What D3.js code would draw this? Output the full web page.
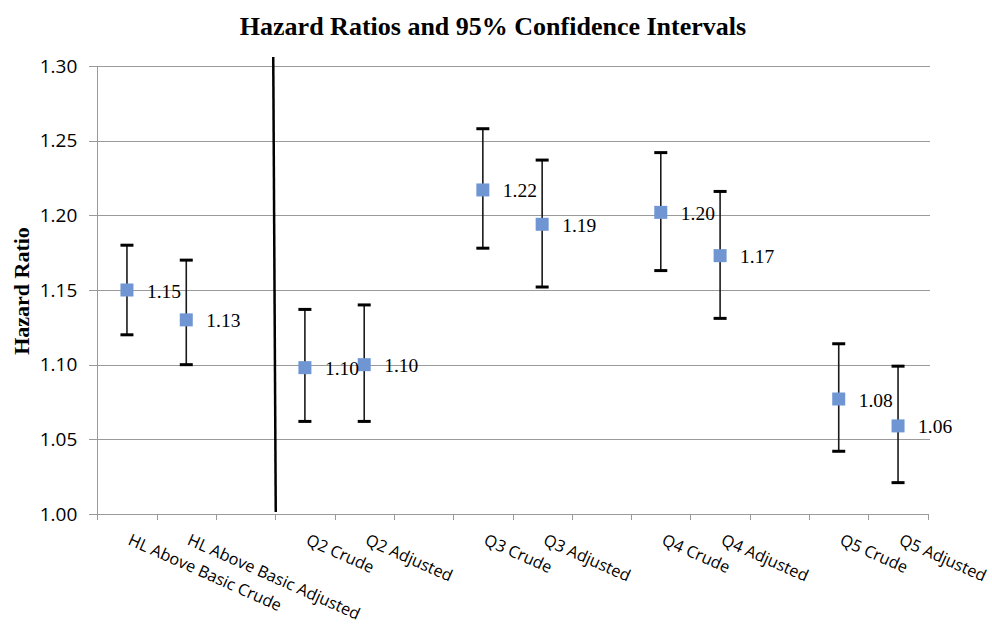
<!DOCTYPE html>
<html lang="en">
  <head>
    <meta charset="UTF-8" />
    <script src="https://d3js.org/d3.v7.min.js"></script>
    <title>Hazard Ratios and 95% Confidence Intervals</title>
    <style>
      body { margin: 0; background: #fff; }
      .grid line { stroke: #9a9a9a; stroke-width: 1; shape-rendering: crispEdges; }
      .axis path, .axis line { fill: none; stroke: #9a9a9a; shape-rendering: crispEdges; }
      .axis text { font-family: 'Open Sans', sans-serif; fill: #000; }
    </style>
  </head>
  <body>
    <script>
      var width = 992
      var height = 626

      // category slots (empty strings = gaps between groups)
      var slots = ['HL Above Basic Crude', 'HL Above Basic Adjusted', '',
        'Q2 Crude', 'Q2 Adjusted', '', 'Q3 Crude', 'Q3 Adjusted', '',
        'Q4 Crude', 'Q4 Adjusted', '', 'Q5 Crude', 'Q5 Adjusted']
      var hr = [1.150, 1.130, null, 1.098, 1.100, null, 1.217, 1.194, null,
        1.202, 1.173, null, 1.077, 1.059]
      var lower = [1.120, 1.100, null, 1.062, 1.062, null, 1.178, 1.152, null,
        1.163, 1.131, null, 1.042, 1.021]
      var upper = [1.180, 1.170, null, 1.137, 1.140, null, 1.258, 1.237, null,
        1.242, 1.216, null, 1.114, 1.099]
      var hrLabels = ['1.15', '1.13', '', '1.10', '1.10', '', '1.22', '1.19', '',
        '1.20', '1.17', '', '1.08', '1.06']
      var yTicks = [1.00, 1.05, 1.10, 1.15, 1.20, 1.25, 1.30]
      var dividerAfter = 2 // vertical separator at the start of slot 3

      var plotLeft = 97.3, plotRight = 927.7, plotTop = 66, plotBottom = 514

      var svg = d3.select('body').append('svg')
        .attr('width', width).attr('height', height)

      var x = d3.scaleBand().domain(d3.range(slots.length)).range([plotLeft, plotRight])
      var y = d3.scaleLinear().domain([1.0, 1.3]).range([plotBottom, plotTop])

      // horizontal gridlines
      svg.append('g').attr('class', 'grid')
        .selectAll('line').data(yTicks.slice(1)).enter().append('line')
        .attr('x1', plotLeft).attr('x2', plotRight + 2)
        .attr('y1', d => Math.round(y(d)) + 0.5).attr('y2', d => Math.round(y(d)) + 0.5)

      // y axis
      var yAxis = d3.axisLeft(y).tickValues(yTicks).tickFormat(d3.format('.2f'))
        .tickSize(8).tickPadding(12)
      svg.append('g').attr('class', 'axis')
        .attr('transform', 'translate(' + plotLeft + ',0)')
        .call(yAxis)
        .call(g => g.selectAll('text').attr('font-size', 19))

      // x axis with ticks at slot boundaries
      var boundaries = d3.range(slots.length + 1).map(i => plotLeft + i * x.step())
      var xg = svg.append('g').attr('class', 'axis')
      xg.append('line').attr('x1', plotLeft).attr('x2', plotRight)
        .attr('y1', plotBottom + 0.5).attr('y2', plotBottom + 0.5)
      xg.selectAll('.tk').data(boundaries).enter().append('line')
        .attr('x1', d => Math.round(d) + 0.5).attr('x2', d => Math.round(d) + 0.5)
        .attr('y1', plotBottom).attr('y2', plotBottom + 6)
      xg.selectAll('.lbl').data(slots.map((s, i) => ({ s: s, i: i })).filter(d => d.s))
        .enter().append('text')
        .attr('font-size', 16.3)
        .attr('text-anchor', 'start')
        .attr('transform', d => 'translate(' + (x(d.i) + x.bandwidth() / 2) + ',544) rotate(24)')
        .text(d => d.s)

      // vertical separator
      var xd = plotLeft + (dividerAfter + 1) * x.step()
      svg.append('line')
        .attr('x1', xd - 2).attr('x2', xd + 0.5)
        .attr('y1', 57).attr('y2', plotBottom - 2)
        .attr('stroke', '#000').attr('stroke-width', 2.5)

      var pts = d3.range(slots.length).filter(i => hr[i] !== null)
      var cx = i => x(i) + x.bandwidth() / 2

      // error bars
      var eb = svg.append('g')
      eb.selectAll('.v').data(pts).enter().append('line')
        .attr('x1', cx).attr('x2', cx)
        .attr('y1', i => y(upper[i])).attr('y2', i => y(lower[i]))
        .attr('stroke', '#1a1a1a').attr('stroke-width', 1.6)
      eb.selectAll('.cu').data(pts).enter().append('line')
        .attr('x1', i => cx(i) - 6.5).attr('x2', i => cx(i) + 6.5)
        .attr('y1', i => y(upper[i])).attr('y2', i => y(upper[i]))
        .attr('stroke', '#000').attr('stroke-width', 3)
      eb.selectAll('.cl').data(pts).enter().append('line')
        .attr('x1', i => cx(i) - 6.5).attr('x2', i => cx(i) + 6.5)
        .attr('y1', i => y(lower[i])).attr('y2', i => y(lower[i]))
        .attr('stroke', '#000').attr('stroke-width', 3)

      // markers
      svg.append('g').selectAll('rect').data(pts).enter().append('rect')
        .attr('x', i => cx(i) - 6.5).attr('y', i => y(hr[i]) - 6.5)
        .attr('width', 13).attr('height', 13)
        .attr('fill', '#6f96d3')

      // data labels
      svg.append('g').selectAll('text').data(pts).enter().append('text')
        .attr('x', i => cx(i) + 20).attr('y', i => y(hr[i]) + 7.5)
        .attr('font-family', "'Liberation Serif', 'Times New Roman', serif")
        .attr('font-size', 19.5)
        .text(i => hrLabels[i])

      // title
      svg.append('text')
        .attr('x', 493).attr('y', 35)
        .attr('text-anchor', 'middle')
        .attr('font-family', "'Liberation Serif', 'Times New Roman', serif")
        .attr('font-weight', 'bold').attr('font-size', 26)
        .text('Hazard Ratios and 95% Confidence Intervals')

      // y axis title
      svg.append('text')
        .attr('transform', 'translate(29,291) rotate(-90)')
        .attr('text-anchor', 'middle')
        .attr('font-family', "'Liberation Serif', 'Times New Roman', serif")
        .attr('font-weight', 'bold').attr('font-size', 22)
        .text('Hazard Ratio')
    </script>
  </body>
</html>
